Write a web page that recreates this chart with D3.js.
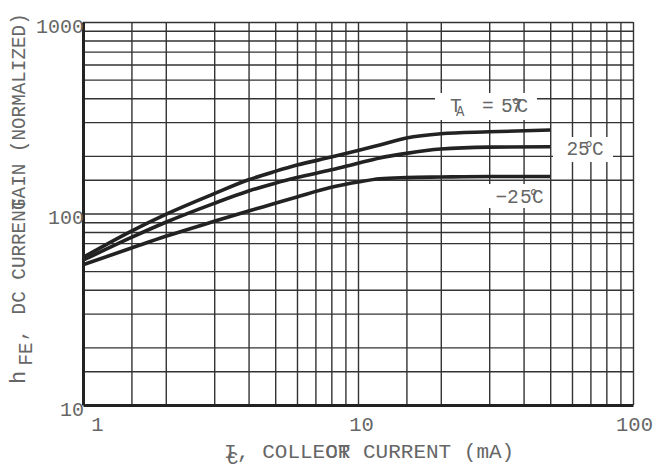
<!DOCTYPE html>
<html>
<head>
<meta charset="utf-8">
<script src="https://cdn.jsdelivr.net/npm/d3@7"></script>
<style>
  body { margin: 0; background: #fff; }
  svg text { font-family: 'Liberation Mono', 'DejaVu Sans Mono', monospace; fill: #666; }
</style>
</head>
<body>
<div id="chart"></div>
<script>
// hFE vs Ic
const collectorCurrent = [1, 1.5, 2, 3, 4, 5, 6, 8, 10, 12, 15, 20, 30, 50];
const gain75 = [59, 81, 99, 127, 150, 166, 179, 197, 213, 228, 248, 261, 267, 273];
const gain25 = [57, 75, 90, 113, 131, 144, 154, 169, 183, 195, 206, 217, 222, 223];
const gainMinus25 = [54, 66, 76, 91, 103, 113, 122, 137, 146, 152, 154, 155, 156, 156];

const xTickLabels = [1, 10, 100];
const yTickLabels = [10, 100, 1000];
const xGridValues = [1.5, 2, 3, 4, 5, 6, 7, 8, 9, 10, 15, 20, 30, 40, 50, 60, 70, 80, 90, 100];
const yGridValues = [15, 20, 30, 40, 50, 70, 80, 90, 100, 150, 200, 300, 400, 500, 600, 700, 800, 900, 1000];

const series = [gain75, gain25, gainMinus25];

const width = 659, height = 468;
const margin = { top: 22, right: 26, bottom: 63, left: 83 };

const svg = d3.select('#chart')
    .append('svg')
    .attr('width', width)
    .attr('height', height);

const x = d3.scaleLog().domain([1, 100]).range([margin.left, width - margin.right]);
const y = d3.scaleLog().domain([10, 1000]).range([height - margin.bottom, margin.top]);

// grid
svg.append('g')
    .attr('transform', `translate(0,${y(10)})`)
    .call(d3.axisBottom(x).tickValues(xGridValues).tickSize(-(y(10) - y(1000))).tickFormat(''))
    .call(g => g.select('.domain').remove())
    .selectAll('line')
    .attr('stroke', '#333')
    .attr('stroke-width', 1.4);

svg.append('g')
    .attr('transform', `translate(${x(1)},0)`)
    .call(d3.axisLeft(y).tickValues(yGridValues).tickSize(-(x(100) - x(1))).tickFormat(''))
    .call(g => g.select('.domain').remove())
    .selectAll('line')
    .attr('stroke', '#333')
    .attr('stroke-width', 1.4);

// curves
const line = d3.line()
    .x(d => x(d[0]))
    .y(d => y(d[1]))
    .curve(d3.curveMonotoneX);

series.forEach(values => {
    svg.append('path')
        .datum(collectorCurrent.map((c, i) => [c, values[i]]))
        .attr('d', line)
        .attr('fill', 'none')
        .attr('stroke', '#222')
        .attr('stroke-width', 3.6);
});

// temperature labels on white patches
const boxes = [[435, 93, 102, 27], [553, 137, 60, 25], [488, 184, 60, 24]];
boxes.forEach(b => {
    svg.append('rect')
        .attr('x', b[0]).attr('y', b[1])
        .attr('width', b[2]).attr('height', b[3])
        .attr('fill', '#fff');
});

const t75 = svg.append('text').attr('y', 112).attr('font-size', 19.5);
t75.append('tspan').attr('x', 450).text('T');
t75.append('tspan').attr('x', 456).attr('dy', 4).attr('font-size', 14).text('A');
t75.append('tspan').attr('x', 482).attr('dy', -4).text('=');
t75.append('tspan').attr('x', 501).text('5');
t75.append('tspan').attr('x', 510).text('°');
t75.append('tspan').attr('x', 511).text('7');
t75.append('tspan').attr('x', 516.5).text('C');

const t25 = svg.append('text').attr('y', 155).attr('font-size', 19.5);
t25.append('tspan').attr('x', 566.5).text('2');
t25.append('tspan').attr('x', 578).text('5');
t25.append('tspan').attr('x', 583).text('°');
t25.append('tspan').attr('x', 592).text('C');

const tm25 = svg.append('text').attr('y', 203).attr('font-size', 19.5);
tm25.append('tspan').attr('x', 495.5).text('−');
tm25.append('tspan').attr('x', 507).text('2');
tm25.append('tspan').attr('x', 520).text('5');
tm25.append('tspan').attr('x', 527.7).text('°');
tm25.append('tspan').attr('x', 532).text('C');

// axes
const xAxis = svg.append('g')
    .attr('transform', `translate(0,${y(10)})`)
    .call(d3.axisBottom(x).tickValues(xTickLabels).tickSize(0).tickSizeOuter(0).tickFormat(d3.format('d')));
xAxis.select('.domain').attr('stroke', '#222').attr('stroke-width', 3);
xAxis.selectAll('text')
    .attr('font-size', 20.5)
    .attr('y', 26)
    .attr('dy', 0)
    .attr('dx', (d, i) => i === 0 ? 14 : i === 1 ? 3 : 1);

const yAxis = svg.append('g')
    .attr('transform', `translate(${x(1)},0)`)
    .call(d3.axisLeft(y).tickValues(yTickLabels).tickSize(0).tickSizeOuter(0).tickPadding(-1).tickFormat(d3.format('d')));
yAxis.select('.domain').attr('stroke', '#222').attr('stroke-width', 3);
yAxis.selectAll('text')
    .attr('font-size', 20)
    .attr('dy', '0.5em');

// x title: I_C, COLLECTOR CURRENT (mA)
const px = 12.6;
const xt = svg.append('text').attr('y', 458).attr('font-size', 21);
xt.append('tspan').attr('x', 224).text('I');
xt.append('tspan').attr('x', 227).attr('dy', 6).attr('font-size', 19).text('C');
xt.append('tspan').attr('x', 237).attr('dy', -6).text(', COLLE');
const overlapX = 237 + 7 * px;
xt.append('tspan').attr('x', overlapX).text('OR');
xt.append('tspan').attr('x', overlapX).text('CT');
xt.append('tspan').attr('x', overlapX + 2 * px).text(' CURRENT (mA)');

// y title: hFE, DC CURRENT GAIN (NORMALIZED)
const py = 11.6;
const yt = svg.append('text')
    .attr('transform', 'translate(25,384) rotate(-90)')
    .attr('font-size', 19.3);
yt.append('tspan').attr('x', 0).attr('font-size', 22).text('h');
yt.append('tspan').attr('x', 1.6 * py).attr('dy', 7).text('FE');
yt.append('tspan').attr('x', 3.7 * py).attr('dy', -7).text(',');
yt.append('tspan').attr('x', 6 * py).text('DC CURREN');
yt.append('tspan').attr('x', 15 * py).text('T');
yt.append('tspan').attr('x', 15 * py).text('GAIN (NORMALIZED)');
</script>
</body>
</html>
